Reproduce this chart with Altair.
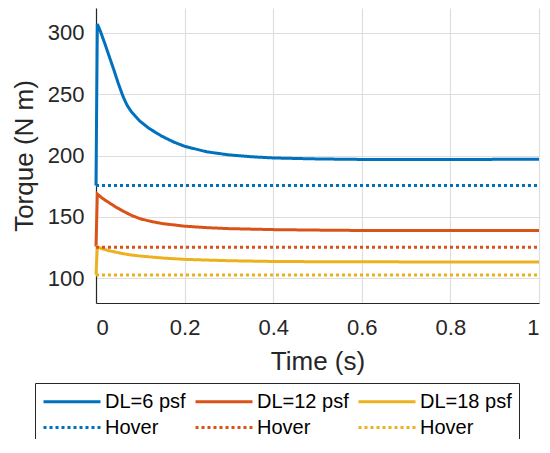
import altair as alt
import pandas as pd

# ---- data ----
t_dl6 = [0.0, 0.003, 0.01, 0.02, 0.031, 0.04, 0.05, 0.061, 0.07, 0.08, 0.09, 0.099, 0.12, 0.147, 0.175,
         0.2, 0.25, 0.3, 0.35, 0.4, 0.5, 0.6, 0.8, 1.0]
v_dl6 = [175.6, 307.0, 301.0, 291.0, 279.4, 270.0, 259.0, 248.0, 241.0, 235.5, 231.5, 228.0, 222.0, 216.0, 211.0,
         207.5, 203.0, 200.5, 199.0, 198.0, 197.2, 196.8, 196.8, 196.9]

t_dl12 = [0.0, 0.003, 0.015, 0.03, 0.045, 0.06, 0.08, 0.1, 0.125, 0.15, 0.2, 0.25, 0.3, 0.4, 0.5, 0.6, 0.8, 1.0]
v_dl12 = [126.0, 168.7, 165.0, 161.5, 158.0, 155.0, 151.3, 148.5, 146.3, 144.6, 142.5, 141.3, 140.5, 139.7, 139.3, 139.0, 139.0, 139.0]

t_dl18 = [0.0, 0.003, 0.015, 0.03, 0.06, 0.08, 0.1, 0.15, 0.2, 0.3, 0.4, 0.5, 0.6, 0.8, 1.0]
v_dl18 = [103.2, 125.6, 124.0, 122.5, 120.2, 119.0, 118.2, 116.6, 115.5, 114.4, 113.8, 113.6, 113.5, 113.4, 113.4]

hover_t = [0.0, 1.0]
hover_dl6 = 175.6
hover_dl12 = 125.4
hover_dl18 = 102.8

series_keys = ["DL=6 psf", "DL=12 psf", "DL=18 psf", "Hover 6", "Hover 12", "Hover 18"]
series_colors = ["#0072BD", "#D95319", "#EDB120", "#0072BD", "#D95319", "#EDB120"]
series_dash = [[1, 0], [1, 0], [1, 0], [3, 3], [3, 3], [3, 3]]

y_ticks = [100, 150, 200, 250, 300]
x_ticks = [0, 0.2, 0.4, 0.6, 0.8, 1]

rows = []
for key, ts, vs in [("DL=6 psf", t_dl6, v_dl6), ("DL=12 psf", t_dl12, v_dl12), ("DL=18 psf", t_dl18, v_dl18)]:
    for t, v in zip(ts, vs):
        rows.append({"t": t, "v": v, "s": key})
for key, hv in [("Hover 6", hover_dl6), ("Hover 12", hover_dl12), ("Hover 18", hover_dl18)]:
    for t in hover_t:
        rows.append({"t": t, "v": hv, "s": key})
df = pd.DataFrame(rows)

FONT = "Liberation Sans"
TXT = "#262626"


def make_legend():
    return alt.Legend(title=None, orient="none", legendX=-61, legendY=375, direction="horizontal",
                      columns=3, symbolType="M-1,0H4.7", symbolSize=400,
                      symbolStrokeWidth=3, labelFontSize=20, labelFont=FONT,
                      labelColor="#000000", labelOffset=40,
                      labelExpr="indexof(datum.label, 'Hover') == 0 ? 'Hover' : datum.label",
                      strokeColor="#262626", fillColor="white", padding=7,
                      rowPadding=4, columnPadding=3)


chart = alt.Chart(df).mark_line(strokeWidth=3, strokeCap="butt").encode(
    x=alt.X("t:Q", scale=alt.Scale(domain=[0, 1], nice=False),
            axis=alt.Axis(title="Time (s)", values=x_ticks, format="~g")),
    y=alt.Y("v:Q", scale=alt.Scale(domain=[80, 320], nice=False, zero=False),
            axis=alt.Axis(title="Torque (N m)", values=y_ticks)),
    color=alt.Color("s:N", scale=alt.Scale(domain=series_keys, range=series_colors),
                    legend=make_legend()),
    strokeDash=alt.StrokeDash("s:N", scale=alt.Scale(domain=series_keys, range=series_dash),
                              legend=make_legend()),
).properties(
    width=443, height=295,
    autosize=alt.AutoSizeParams(type="none"),
    padding={"left": 88, "top": 0, "right": 2, "bottom": 136},
).configure_view(stroke=None).configure_axis(
    labelFont=FONT, titleFont=FONT, labelFontSize=22, titleFontSize=26,
    labelColor=TXT, titleColor=TXT, titleFontWeight="normal",
    domainColor=TXT, domainWidth=1.2, ticks=False,
    grid=True, gridColor="#dedede", gridWidth=1.2,
).configure_axisX(labelPadding=14, titlePadding=10).configure_axisY(labelPadding=12, titlePadding=10)

chart.save("out.html", embed_options={"renderer": "svg", "actions": False})
